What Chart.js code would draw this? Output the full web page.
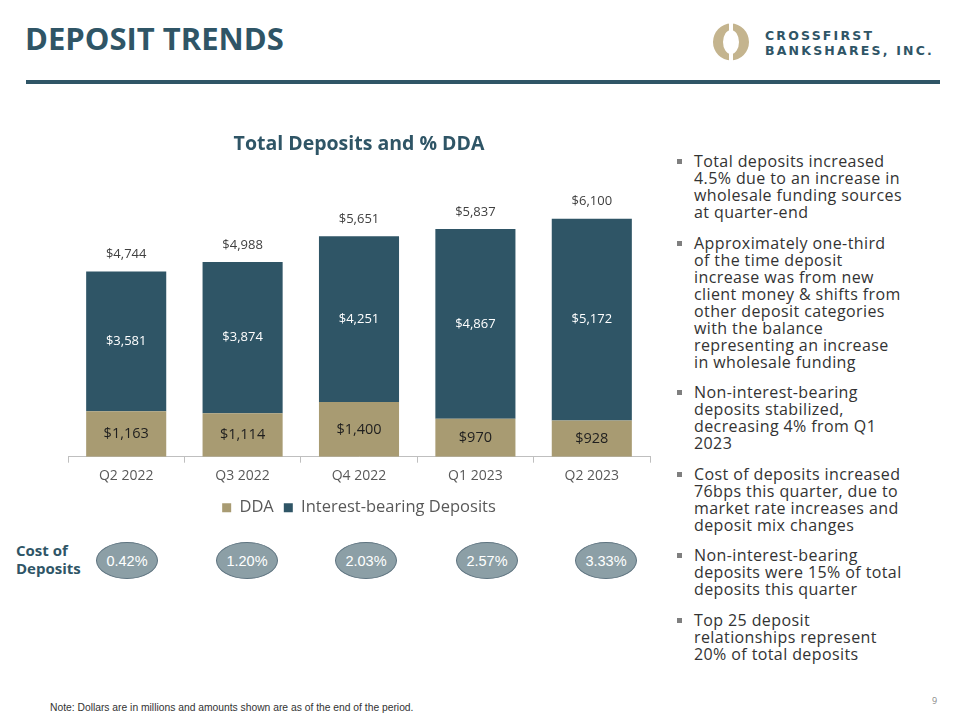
<!DOCTYPE html>
<html>
<head>
<meta charset="utf-8">
<script src="https://cdn.jsdelivr.net/npm/chart.js@4.4.0/dist/chart.umd.min.js"></script>
<style>
  html, body { margin:0; padding:0; background:#fff; }
  body { width:960px; height:720px; position:relative; overflow:hidden; font-family:"Open Sans", sans-serif; }
  #title { position:absolute; left:25px; top:17px; font-family:"Open Sans"; font-weight:bold; font-size:31px; color:#2f5566; }
  #rule { position:absolute; left:26px; top:80px; width:914px; height:4px; background:#2f5566; }
  #logo { position:absolute; left:712px; top:23px; }
  .brand { position:absolute; left:765px; font-family:"DejaVu Sans"; font-weight:bold; font-size:12.5px; color:#2f5566; letter-spacing:2.2px; }
  #chartBox { position:absolute; left:58px; top:125px; width:602px; height:401px; }
  #costLbl { position:absolute; left:16px; top:541px; font-weight:bold; font-size:15px; line-height:18px; color:#2f5566; }
  .pill { position:absolute; top:542px; width:60px; height:35px; margin-left:-31px; border-radius:50%;
          background:#8c9fa6; border:1px solid #5f7480; color:#fff; font-family:"Liberation Sans Narrow","Liberation Sans"; font-size:14.5px;
          display:flex; align-items:center; justify-content:center; }
  #bullets { position:absolute; left:694px; top:153px; margin:0; padding:0; list-style:none; font-size:16px; letter-spacing:0.4px; line-height:17px; color:#333; }
  #bullets li { position:relative; margin-bottom:13.5px; white-space:nowrap; }
  #bullets li:before { content:""; position:absolute; left:-17px; top:6px; width:5px; height:5px; background:#7f7f7f; }
  #note { position:absolute; left:50px; top:702px; font-family:"Liberation Sans Narrow","Liberation Sans"; font-size:10.3px; color:#333; }
  #pg { position:absolute; left:932px; top:694px; font-size:9px; color:#888; }
</style>
</head>
<body>
<div id="title">DEPOSIT TRENDS</div>
<div id="rule"></div>
<svg id="logo" width="40" height="38" viewBox="0 0 40 38">
  <path fill="#c4b48e" fill-rule="evenodd" d="M1,19 a18,18.5 0 1,0 36,0 a18,18.5 0 1,0 -36,0 Z M11,19 a8,12 0 1,0 16,0 a8,12 0 1,0 -16,0 Z"/>
  <rect x="17" y="0" width="4" height="38" fill="#fff"/>
</svg>
<div class="brand" style="top:28px">CROSSFIRST</div>
<div class="brand" style="top:43px">BANKSHARES, INC.</div>

<div id="chartBox"><canvas id="chart"></canvas></div>

<div id="costLbl">Cost of<br>Deposits</div>
<div id="pills"></div>

<ul id="bullets">
  <li>Total deposits increased<br>4.5% due to an increase in<br>wholesale funding sources<br>at quarter-end</li>
  <li>Approximately one-third<br>of the time deposit<br>increase was from new<br>client money &amp; shifts from<br>other deposit categories<br>with the balance<br>representing an increase<br>in wholesale funding</li>
  <li>Non-interest-bearing<br>deposits stabilized,<br>decreasing 4% from Q1<br>2023</li>
  <li>Cost of deposits increased<br>76bps this quarter, due to<br>market rate increases and<br>deposit mix changes</li>
  <li>Non-interest-bearing<br>deposits were 15% of total<br>deposits this quarter</li>
  <li>Top 25 deposit<br>relationships represent<br>20% of total deposits</li>
</ul>

<div id="note">Note: Dollars are in millions and amounts shown are as of the end of the period.</div>
<div id="pg">9</div>

<script>
const quarters = ["Q2 2022", "Q3 2022", "Q4 2022", "Q1 2023", "Q2 2023"];
const dda = [1163, 1114, 1400, 970, 928];
const interestBearing = [3581, 3874, 4251, 4867, 5172];
const totals = [4744, 4988, 5651, 5837, 6100];
const costOfDeposits = ["0.42%", "1.20%", "2.03%", "2.57%", "3.33%"];

// pill centres on the page (layout, not data)
const pillX = [127, 247, 366, 487, 606];

const TAN = "#a89b72";
const TEAL = "#2f5566";

function money(v){ return "$" + v.toLocaleString("en-US"); }

const barLabels = {
  id: "barLabels",
  afterDatasetsDraw(chart){
    const ctx = chart.ctx;
    const m0 = chart.getDatasetMeta(0), m1 = chart.getDatasetMeta(1);
    ctx.save();
    ctx.textAlign = "center";
    ctx.textBaseline = "middle";
    m0.data.forEach((bar, i) => {
      ctx.font = "14.5px 'Open Sans'";
      ctx.fillStyle = "#1f1f1f";
      ctx.fillText(money(dda[i]), bar.x, (bar.y + bar.base) / 2);
    });
    m1.data.forEach((bar, i) => {
      ctx.font = "13px 'Open Sans'";
      ctx.fillStyle = "#fff";
      ctx.fillText(money(interestBearing[i]), bar.x, (bar.y + bar.base) / 2);
      ctx.fillStyle = "#404040";
      ctx.fillText(money(totals[i]), bar.x, bar.y - 17);
    });
    ctx.restore();
  }
};

new Chart(document.getElementById("chart"), {
  type: "bar",
  data: {
    labels: quarters,
    datasets: [
      { label: "DDA", data: dda, backgroundColor: TAN },
      { label: "Interest-bearing Deposits", data: interestBearing, backgroundColor: TEAL }
    ]
  },
  options: {
    responsive: true,
    maintainAspectRatio: false,
    animation: false,
    layout: { padding: { left: 10, right: 10 } },
    datasets: { bar: { categoryPercentage: 0.8, barPercentage: 0.86 } },
    scales: {
      x: {
        stacked: true,
        grid: { display: true, drawOnChartArea: false, offset: true, tickLength: 6, color: "#bfbfbf" },
        border: { color: "#bfbfbf" },
        ticks: { color: "#595959", font: { family: "Open Sans", size: 14 }, padding: 5 }
      },
      y: { stacked: true, display: false, min: 0, max: 7440 }
    },
    plugins: {
      title: {
        display: true,
        text: "Total Deposits and % DDA",
        color: TEAL,
        font: { family: "Open Sans", size: 19.5, weight: "bold" },
        padding: { top: 8, bottom: 10 }
      },
      legend: {
        position: "bottom",
        labels: { boxWidth: 9, boxHeight: 9, color: "#595959", font: { family: "Open Sans", size: 16.5 }, padding: 10 }
      },
      tooltip: { enabled: false }
    }
  },
  plugins: [barLabels]
});

const pills = document.getElementById("pills");
costOfDeposits.forEach((c, i) => {
  const d = document.createElement("div");
  d.className = "pill";
  d.style.left = pillX[i] + "px";
  d.textContent = c;
  pills.appendChild(d);
});
</script>
</body>
</html>
